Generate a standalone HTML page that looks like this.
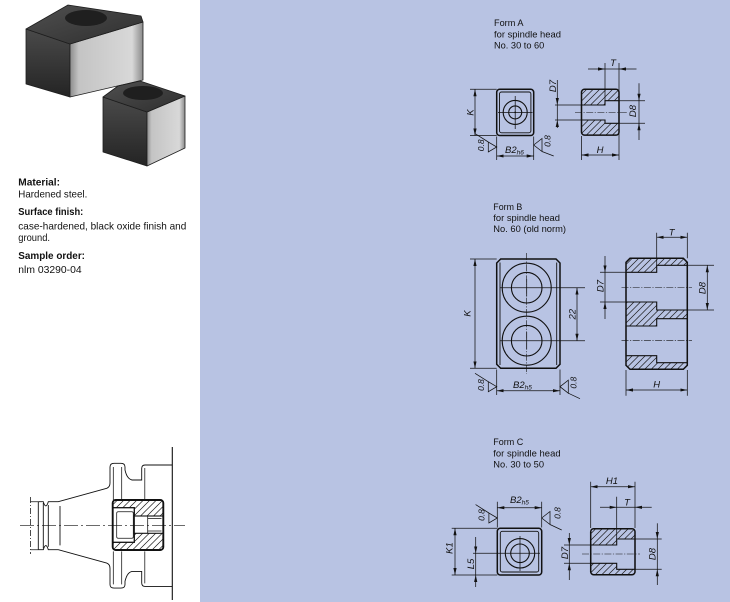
<!DOCTYPE html>
<html><head><meta charset="utf-8">
<style>
html,body{margin:0;padding:0;background:#fff;}
svg{display:block;}
.o{stroke:#111;stroke-width:1.5;fill:none;}
.b{stroke:#111;stroke-width:1.1;}
.t{stroke:#111;stroke-width:0.75;fill:none;}
.c{stroke:#111;stroke-width:0.6;fill:none;stroke-dasharray:7 1.5 1.2 1.5;}
.l{font-family:"Liberation Sans",sans-serif;font-style:italic;font-size:9.5px;fill:#111;}
.f{font-family:"Liberation Sans",sans-serif;font-size:9.3px;fill:#111;}
.p{font-family:"Liberation Sans",sans-serif;font-size:10.3px;fill:#111;}
.pb{font-family:"Liberation Sans",sans-serif;font-size:10.3px;font-weight:bold;fill:#111;}
</style></head><body>
<svg width="730" height="602" viewBox="0 0 730 602" xmlns="http://www.w3.org/2000/svg">
<defs>
<marker id="a" viewBox="0 0 7 4" markerWidth="7" markerHeight="4" refX="7" refY="2" orient="auto-start-reverse" markerUnits="userSpaceOnUse"><path d="M0,0.4 L7,2 L0,3.6z" fill="#111"/></marker>
<pattern id="h" patternUnits="userSpaceOnUse" width="6.5" height="6.5"><path d="M0,6.5 L6.5,0 M-1,1 L1,-1 M5.5,7.5 L7.5,5.5" stroke="#1a1a1a" stroke-width="0.7"/></pattern>
<linearGradient id="lf" x1="0" y1="0" x2="0" y2="1"><stop offset="0" stop-color="#4a4a4a"/><stop offset="1" stop-color="#242424"/></linearGradient>
<linearGradient id="rf" x1="0" y1="0" x2="1" y2="0"><stop offset="0" stop-color="#8c8c8c"/><stop offset="0.12" stop-color="#c4c4c4"/><stop offset="0.85" stop-color="#d8d8d8"/><stop offset="1" stop-color="#8a8a8a"/></linearGradient>
<linearGradient id="tf" x1="0" y1="0" x2="1" y2="1"><stop offset="0" stop-color="#505050"/><stop offset="1" stop-color="#2e2e2e"/></linearGradient>
</defs>

<rect x="0" y="0" width="730" height="602" fill="#fff"/>
<rect x="200" y="0" width="530" height="602" fill="#b8c3e3"/>

<!-- Photos -->
<g stroke="#1e1e1e" stroke-width="0.8" stroke-linejoin="round">
<polygon points="26,29 70,44 70,97 26,84" fill="url(#lf)"/>
<polygon points="70,44 143,22 143,80 70,97" fill="url(#rf)"/>
<polygon points="26,29 68,5 141,16 143,22 70,44" fill="url(#tf)"/>
<polygon points="103,97 147,112 147,166 103,152" fill="url(#lf)"/>
<polygon points="147,112 185,96 185,148 147,166" fill="url(#rf)"/>
<polygon points="103,97 118,86 140,81 185,96 147,112" fill="url(#tf)"/>
</g>
<ellipse cx="86" cy="18" rx="21" ry="8" fill="#1f1f1f"/>
<ellipse cx="143" cy="93" rx="20" ry="7" fill="#1f1f1f"/>

<!-- Left text -->
<text class="pb" x="18.3" y="185.7" textLength="41.7" lengthAdjust="spacingAndGlyphs">Material:</text>
<text class="p" x="18.3" y="197.3" textLength="69" lengthAdjust="spacingAndGlyphs">Hardened steel.</text>
<text class="pb" x="18.3" y="215" textLength="65" lengthAdjust="spacingAndGlyphs">Surface finish:</text>
<text class="p" x="18.3" y="229.7" textLength="168" lengthAdjust="spacingAndGlyphs">case-hardened, black oxide finish and</text>
<text class="p" x="18.3" y="240.8" textLength="31.7" lengthAdjust="spacingAndGlyphs">ground.</text>
<text class="pb" x="18.3" y="259" textLength="66.7" lengthAdjust="spacingAndGlyphs">Sample order:</text>
<text class="p" x="18.3" y="273.2" textLength="63.3" lengthAdjust="spacingAndGlyphs">nlm 03290-04</text>

<!-- Bottom-left assembly drawing -->
<line x1="172.3" y1="447" x2="172.3" y2="600" stroke="#111" stroke-width="1.1"/>
<line class="t" x1="30.5" y1="497" x2="30.5" y2="554" style="stroke-dasharray:6 2 1 2"/>
<path class="t" d="M30.5,501.7 H38.3 M30.5,549.7 H38.3"/>
<g id="half">
<path class="t" style="stroke-width:0.9" d="M38.3,501.7 H43.3 Q45.8,510 48.3,501.7 H58.3 L106.7,488.3 Q110,487 110,483 V467 Q110,463.3 114,463.3 H121 Q125,463.3 125,467 V470 Q127,479 132,480 H141.7 V468.5 Q141.7,465 145,465 H172.3"/>
<path class="t" d="M113.3,467 V500 M121.7,467 V500 M144.8,468 V500"/>
</g>
<use href="#half" transform="matrix(1,0,0,-1,0,1051.4)"/>
<path class="t" style="stroke-width:0.9" d="M38.3,501.7 V549.7 M43.3,503 V548.4 M48.3,505 V546.7 M60,506 V545.4"/>
<rect x="112.7" y="500" width="50.6" height="50" rx="3" fill="#fff"/>
<rect x="112.7" y="500" width="50.6" height="50" rx="3" fill="url(#h)"/>
<rect x="112.7" y="507.7" width="21.6" height="34.6" fill="#fff" stroke="#111" stroke-width="1.3"/>
<rect x="116.7" y="511.7" width="16.6" height="26.6" rx="1.5" class="t"/>
<rect x="134.3" y="516" width="29" height="17.3" fill="#fff" stroke="#111" stroke-width="1.1"/>
<path class="t" d="M147.7,516 V533.3 M147.7,518.5 H161.5 M147.7,531 H161.5"/>
<rect x="112.7" y="500" width="50.6" height="50" rx="3" fill="none" stroke="#111" stroke-width="1.9"/>
<line class="c" x1="20" y1="525.7" x2="185" y2="525.7" style="stroke-dasharray:14 3 2 3"/>

<!-- ================= FORM A ================= -->
<text class="f" x="494" y="26" textLength="29.5" lengthAdjust="spacingAndGlyphs">Form A</text>
<text class="f" x="494" y="37.3" textLength="67" lengthAdjust="spacingAndGlyphs">for spindle head</text>
<text class="f" x="494" y="48.5" textLength="50.3" lengthAdjust="spacingAndGlyphs">No. 30 to 60</text>

<rect class="o" x="496.7" y="89.3" width="37" height="46.2" rx="3"/>
<rect class="t" style="stroke-width:0.9" x="499.5" y="92" width="31.4" height="40.8" rx="2"/>
<circle class="t" style="stroke-width:1.1" cx="515.2" cy="112.4" r="12"/>
<circle class="t" style="stroke-width:1.1" cx="515.2" cy="112.4" r="6.5"/>
<circle cx="515.2" cy="112.4" r="0.9" fill="#111"/>
<line class="t" x1="498" y1="112.4" x2="532.5" y2="112.4"/>
<line class="t" x1="515.2" y1="96" x2="515.2" y2="129"/>
<path class="t" d="M470,89.3 H496.7 M470,135.5 H496.7"/>
<line class="t" x1="475" y1="89.3" x2="475" y2="135.5" marker-start="url(#a)" marker-end="url(#a)"/>
<text class="l" transform="translate(473.5,112.4) rotate(-90)" text-anchor="middle">K</text>
<path class="t" d="M496.7,136.5 V160 M533.7,136.5 V160"/>
<line class="t" x1="496.7" y1="156" x2="533.7" y2="156" marker-start="url(#a)" marker-end="url(#a)"/>
<text class="l" x="505" y="153">B2<tspan font-size="6.5" dy="1.5">h6</tspan></text>
<g transform="translate(496.7,147)">
<path class="t" d="M0,0 L-8.4,-5 L-8.4,5 Z M-8.4,-5 L-21.7,-13.4"/>
<text class="l" style="font-size:8.5px" transform="translate(-12.9,-1.7) rotate(-90)" text-anchor="middle">0.8</text>
</g>
<g transform="translate(533.7,145)">
<path class="t" d="M0,0 L8.3,-6.5 L8.3,6.5 Z M8.3,6.5 L20,11"/>
<text class="l" style="font-size:8.5px" transform="translate(17,-4) rotate(-90)" text-anchor="middle">0.8</text>
</g>

<rect x="581.5" y="89.3" width="37.5" height="45.8" rx="3" fill="url(#h)"/>
<path d="M581.5,105 H605 V100.7 H619 V123.3 H605 V120 H581.5 Z" fill="#b8c3e3" class="b"/>
<rect class="o" x="581.5" y="89.3" width="37.5" height="45.8" rx="3"/>
<line class="c" x1="575" y1="112.5" x2="627" y2="112.5"/>
<path class="t" d="M605,63 V100.7 M619,63 V160 M581.5,136 V160"/>
<line class="t" x1="588" y1="69" x2="605" y2="69" marker-end="url(#a)"/>
<line class="t" x1="636.5" y1="69" x2="619" y2="69" marker-end="url(#a)"/>
<line class="t" x1="605" y1="69" x2="619" y2="69"/>
<text class="l" x="613" y="66" text-anchor="middle">T</text>
<path class="t" d="M555,105 H581.5 M555,120 H581.5"/>
<line class="t" x1="557.3" y1="80" x2="557.3" y2="105" marker-end="url(#a)"/>
<line class="t" x1="557.3" y1="128" x2="557.3" y2="120" marker-end="url(#a)"/>
<line class="t" x1="557.3" y1="105" x2="557.3" y2="120"/>
<text class="l" transform="translate(556,86) rotate(-90)" text-anchor="middle">D7</text>
<path class="t" d="M619,100.7 H645 M619,123.3 H645"/>
<line class="t" x1="639" y1="83.3" x2="639" y2="100.7" marker-end="url(#a)"/>
<line class="t" x1="639" y1="140" x2="639" y2="123.3" marker-end="url(#a)"/>
<line class="t" x1="639" y1="100.7" x2="639" y2="123.3"/>
<text class="l" transform="translate(636,111) rotate(-90)" text-anchor="middle">D8</text>
<line class="t" x1="581.5" y1="155" x2="619" y2="155" marker-start="url(#a)" marker-end="url(#a)"/>
<text class="l" x="600" y="153" text-anchor="middle">H</text>

<!-- ================= FORM B ================= -->
<text class="f" x="493.3" y="210" textLength="29" lengthAdjust="spacingAndGlyphs">Form B</text>
<text class="f" x="493.3" y="221" textLength="66.7" lengthAdjust="spacingAndGlyphs">for spindle head</text>
<text class="f" x="493.3" y="231.8" textLength="72.7" lengthAdjust="spacingAndGlyphs">No. 60 (old norm)</text>

<path class="o" d="M500.7,259 H556 L560,263 V364.3 L556,368.3 H500.7 L496.7,364.3 V263 Z"/>
<path class="t" style="stroke-width:0.9" d="M500,262.5 V365 M556.7,262.5 V365"/>
<circle class="t" style="stroke-width:1.1" cx="526.7" cy="287.7" r="24.5"/>
<circle class="t" style="stroke-width:1.1" cx="526.7" cy="287.7" r="15.3"/>
<circle class="t" style="stroke-width:1.1" cx="526.7" cy="340.7" r="24.5"/>
<circle class="t" style="stroke-width:1.1" cx="526.7" cy="340.7" r="15.3"/>
<path class="t" d="M500,287.7 H585 M500,340.7 H585 M526.7,279 V296.5 M526.7,332 V349.5"/>
<line class="c" x1="526.7" y1="253" x2="526.7" y2="374"/>
<line class="t" x1="577" y1="287.7" x2="577" y2="340.7" marker-start="url(#a)" marker-end="url(#a)"/>
<text class="l" transform="translate(575.5,314.2) rotate(-90)" text-anchor="middle">22</text>
<path class="t" d="M470,259 H496.7 M470,368.3 H496.7"/>
<line class="t" x1="475" y1="259" x2="475" y2="368.3" marker-start="url(#a)" marker-end="url(#a)"/>
<text class="l" transform="translate(470.5,313.5) rotate(-90)" text-anchor="middle">K</text>
<path class="t" d="M496.7,369.5 V395 M560,369.5 V395"/>
<line class="t" x1="496.7" y1="390.7" x2="560" y2="390.7" marker-start="url(#a)" marker-end="url(#a)"/>
<text class="l" x="513" y="388">B2<tspan font-size="6.5" dy="1.5">h5</tspan></text>
<g transform="translate(496.7,386.7)">
<path class="t" d="M0,0 L-8.4,-5 L-8.4,5 Z M-8.4,-5 L-21.7,-13.4"/>
<text class="l" style="font-size:8.5px" transform="translate(-12.9,-1.7) rotate(-90)" text-anchor="middle">0.8</text>
</g>
<g transform="translate(560,386.7)">
<path class="t" d="M0,0 L8.3,-6.5 L8.3,6.5 Z M8.3,6.5 L20,12"/>
<text class="l" style="font-size:8.5px" transform="translate(16.3,-4) rotate(-90)" text-anchor="middle">0.8</text>
</g>

<path d="M630,258.3 H683.3 L687.3,262.3 V365.3 L683.3,369.3 H630 L626,365.3 V262.3 Z" fill="url(#h)"/>
<path d="M626,272.3 H656.7 V265.3 H687.3 V310 H656.7 V302 H626 Z" fill="#b8c3e3" class="b"/>
<path d="M626,326 H656.7 V318.7 H687.3 V362.7 H656.7 V355.7 H626 Z" fill="#b8c3e3" class="b"/>
<path class="o" d="M630,258.3 H683.3 L687.3,262.3 V365.3 L683.3,369.3 H630 L626,365.3 V262.3 Z"/>
<line class="c" x1="621.5" y1="287.5" x2="692" y2="287.5"/>
<line class="c" x1="621.5" y1="340.7" x2="692" y2="340.7"/>
<path class="t" d="M656.7,232.7 V265.3 M687.3,232.7 V258.3"/>
<line class="t" x1="656.7" y1="237.3" x2="687.3" y2="237.3" marker-start="url(#a)" marker-end="url(#a)"/>
<text class="l" x="671.7" y="235.5" text-anchor="middle">T</text>
<path class="t" d="M600,272.3 H626 M600,302 H626"/>
<line class="t" x1="605" y1="256" x2="605" y2="272.3" marker-end="url(#a)"/>
<line class="t" x1="605" y1="319" x2="605" y2="302" marker-end="url(#a)"/>
<line class="t" x1="605" y1="272.3" x2="605" y2="302"/>
<text class="l" transform="translate(603.5,286) rotate(-90)" text-anchor="middle">D7</text>
<path class="t" d="M687.3,265.3 H714 M687.3,310 H714"/>
<line class="t" x1="707.3" y1="265.3" x2="707.3" y2="310" marker-start="url(#a)" marker-end="url(#a)"/>
<text class="l" transform="translate(705.5,288) rotate(-90)" text-anchor="middle">D8</text>
<path class="t" d="M626,370 V395.7 M687.3,370 V395.7"/>
<line class="t" x1="626" y1="390" x2="687.3" y2="390" marker-start="url(#a)" marker-end="url(#a)"/>
<text class="l" x="656.7" y="387.5" text-anchor="middle">H</text>

<!-- ================= FORM C ================= -->
<text class="f" x="493.3" y="445" textLength="30" lengthAdjust="spacingAndGlyphs">Form C</text>
<text class="f" x="493.3" y="456.3" textLength="67.3" lengthAdjust="spacingAndGlyphs">for spindle head</text>
<text class="f" x="493.3" y="467.7" textLength="50.7" lengthAdjust="spacingAndGlyphs">No. 30 to 50</text>

<rect class="o" x="497.3" y="528.3" width="44.4" height="46.7" rx="3"/>
<rect class="t" style="stroke-width:0.9" x="500.3" y="531.3" width="38.4" height="40.7" rx="2"/>
<circle class="t" style="stroke-width:1.1" cx="520" cy="553.3" r="14.7"/>
<circle class="t" style="stroke-width:1.1" cx="520" cy="553.3" r="9.3"/>
<path class="t" d="M473,553.3 H540 M520,536 V571"/>
<path class="t" d="M451.7,528.3 H497.3 M451.7,575 H497.3"/>
<line class="t" x1="455" y1="528.3" x2="455" y2="575" marker-start="url(#a)" marker-end="url(#a)"/>
<text class="l" transform="translate(452.5,548) rotate(-90)" text-anchor="middle">K1</text>
<line class="t" x1="475.7" y1="537" x2="475.7" y2="553.3" marker-end="url(#a)"/>
<line class="t" x1="475.7" y1="587" x2="475.7" y2="575" marker-end="url(#a)"/>
<line class="t" x1="475.7" y1="553.3" x2="475.7" y2="575"/>
<text class="l" transform="translate(474,564) rotate(-90)" text-anchor="middle">L5</text>
<path class="t" d="M497.3,501.7 V527.5 M541.7,501.7 V527.5"/>
<line class="t" x1="497.3" y1="507.7" x2="541.7" y2="507.7" marker-start="url(#a)" marker-end="url(#a)"/>
<text class="l" x="510" y="503">B2<tspan font-size="6.5" dy="1.5">h5</tspan></text>
<g transform="translate(497.3,518)">
<path class="t" d="M0,0 L-8.4,-5 L-8.4,5 Z M-8.4,-5 L-21.7,-13.4"/>
<text class="l" style="font-size:8.5px" transform="translate(-12.9,-3) rotate(-90)" text-anchor="middle">0.8</text>
</g>
<g transform="translate(541.7,518)">
<path class="t" d="M0,0 L8.3,-6.5 L8.3,6.5 Z M8.3,6.5 L20,12"/>
<text class="l" style="font-size:8.5px" transform="translate(19,-5) rotate(-90)" text-anchor="middle">0.8</text>
</g>

<rect x="590.7" y="528.7" width="44.3" height="46" rx="3" fill="url(#h)"/>
<path d="M590.7,545 H616.7 V539 H635 V569.3 H616.7 V563.3 H590.7 Z" fill="#b8c3e3" class="b"/>
<rect class="o" x="590.7" y="528.7" width="44.3" height="46" rx="3"/>
<line class="c" x1="582" y1="554" x2="640" y2="554"/>
<path class="t" d="M590.7,481.7 V528 M635,481.7 V528 M616.7,496.7 V539"/>
<line class="t" x1="590.7" y1="486.7" x2="635" y2="486.7" marker-start="url(#a)" marker-end="url(#a)"/>
<text class="l" x="612" y="484" text-anchor="middle">H1</text>
<line class="t" x1="600" y1="507.3" x2="616.7" y2="507.3" marker-end="url(#a)"/>
<line class="t" x1="651.7" y1="507.3" x2="635" y2="507.3" marker-end="url(#a)"/>
<line class="t" x1="616.7" y1="507.3" x2="635" y2="507.3"/>
<text class="l" x="627" y="505.5" text-anchor="middle">T</text>
<path class="t" d="M564,545 H590.7 M564,563.3 H590.7"/>
<line class="t" x1="569.3" y1="533" x2="569.3" y2="545" marker-end="url(#a)"/>
<line class="t" x1="569.3" y1="580" x2="569.3" y2="563.3" marker-end="url(#a)"/>
<line class="t" x1="569.3" y1="545" x2="569.3" y2="563.3"/>
<text class="l" transform="translate(568,553) rotate(-90)" text-anchor="middle">D7</text>
<path class="t" d="M635,539 H661.7 M635,569.3 H661.7"/>
<line class="t" x1="657.3" y1="523.3" x2="657.3" y2="539" marker-end="url(#a)"/>
<line class="t" x1="657.3" y1="585" x2="657.3" y2="569.3" marker-end="url(#a)"/>
<line class="t" x1="657.3" y1="539" x2="657.3" y2="569.3"/>
<text class="l" transform="translate(655.5,554) rotate(-90)" text-anchor="middle">D8</text>
</svg>
</body></html>
